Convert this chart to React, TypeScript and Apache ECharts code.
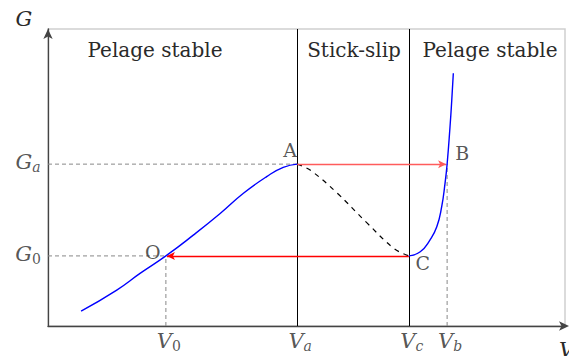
import React, { useEffect, useRef } from "react";
import * as echarts from "echarts";

// Key abscissae / ordinates (abstract units, axis 0..10)
const V0 = 2.28;
const Va = 4.82;
const Vc = 6.98;
const Vb = 7.72;
const G0 = 2.36;
const Ga = 5.45;

// Stable branch (low velocity)
const stableLow: number[][] = [
  [0.64, 0.5], [1.33, 1.21], [1.78, 1.77], [V0, G0], [2.81, 3.06], [3.33, 3.79],
  [3.78, 4.47], [4.23, 5.03], [4.55, 5.34], [Va, Ga],
];
// Unstable branch (dashed)
const unstable: number[][] = [
  [Va, Ga], [5.07, 5.25], [5.59, 4.48], [6.17, 3.47], [6.7, 2.6], [Vc, G0],
];
// Stable branch (high velocity)
const stableHigh: number[][] = [
  [Vc, G0], [7.2, 2.5], [7.39, 2.9], [7.52, 3.34], [7.615, 4.02], [7.68, 4.81],
  [Vb, Ga], [7.776, 6.71], [7.81, 7.61], [7.84, 8.51],
];

// Guide segments (gray dashed)
const guides: number[][][] = [
  [[0, Ga], [Va, Ga]],
  [[0, G0], [V0, G0]],
  [[V0, 0], [V0, G0]],
  [[Vb, 0], [Vb, Ga]],
];

// Regime boundaries
const boundaries = [Va, Vc];

// Jumps (red arrows)
const jumps = [
  { from: [Va, Ga], to: [Vb - 0.02, Ga], color: "#ff5c5c" },
  { from: [Vc, G0], to: [V0 + 0.02, G0], color: "#ff0000" },
];

// Point labels
const points = [
  { name: "A", value: [Va, Ga], offset: [-7, -14] },
  { name: "B", value: [Vb, Ga], offset: [15, -11] },
  { name: "O", value: [V0, G0], offset: [-13, -4] },
  { name: "C", value: [Vc, G0], offset: [14, 7] },
];

// Tick labels
const vTicks = [
  { main: "V", sub: "0", subItalic: false, x: V0 },
  { main: "V", sub: "a", subItalic: true, x: Va },
  { main: "V", sub: "c", subItalic: true, x: Vc },
  { main: "V", sub: "b", subItalic: true, x: Vb },
];
const gTicks = [
  { main: "G", sub: "a", subItalic: true, y: Ga },
  { main: "G", sub: "0", subItalic: false, y: G0 },
];

// Region titles
const regions = [
  { text: "Pelage stable", cx: 155 },
  { text: "Stick-slip", cx: 354 },
  { text: "Pelage stable", cx: 490 },
];

const FONT = "DejaVu Serif";
const TXT = "#2a2a2a";

const rich = {
  m: { fontFamily: FONT, fontStyle: "italic", fontSize: 21, color: TXT, lineHeight: 24, verticalAlign: "middle" },
  s: { fontFamily: FONT, fontSize: 14, color: TXT, lineHeight: 14, verticalAlign: "bottom" },
  si: { fontFamily: FONT, fontStyle: "italic", fontSize: 14, color: TXT, lineHeight: 14, verticalAlign: "bottom" },
};

function tickLabel(t: { main: string; sub: string; subItalic: boolean }) {
  return `{m|${t.main}}{${t.subItalic ? "si" : "s"}|${t.sub}}`;
}

export default function App() {
  const ref = useRef<HTMLDivElement>(null);
  useEffect(() => {
    if (!ref.current) return;
    const chart = echarts.init(ref.current, undefined, { renderer: "svg" });
    const series: any[] = [];
    series.push({
      type: "line", data: stableLow, smooth: 0.5, symbol: "none",
      lineStyle: { color: "#0000ff", width: 1.4 }, z: 5,
    });
    series.push({
      type: "line", data: unstable, smooth: 0.4, symbol: "none",
      lineStyle: { color: "#000", width: 1.2, type: [5, 5] }, z: 4,
    });
    series.push({
      type: "line", data: stableHigh, smooth: 0.5, symbol: "none",
      lineStyle: { color: "#0000ff", width: 1.4 }, z: 5,
    });
    guides.forEach((g) => {
      series.push({
        type: "line", data: g, symbol: "none", lineStyle: { color: "#888", width: 1, type: [4, 3] }, z: 2,
      });
    });
    series.push({
      type: "line", data: [], symbol: "none",
      markLine: {
        silent: true, symbol: "none", animation: false,
        label: { show: false },
        lineStyle: { color: "#000", width: 1, type: "solid" },
        data: boundaries.map((b) => ({ xAxis: b })),
      },
    });
    series.push({
      type: "line", data: [], symbol: "none", z: 6,
      markLine: {
        silent: true, symbol: ["none", "arrow"], symbolSize: [6, 8], animation: false,
        label: { show: false },
        data: jumps.map((j) => [
          { coord: j.from, lineStyle: { color: j.color, width: 1.3, type: "solid" }, itemStyle: { color: j.color } },
          { coord: j.to },
        ]),
      },
    });
    series.push({
      type: "scatter", clip: false, symbolSize: 1, itemStyle: { color: "transparent" }, z: 10,
      data: points.map((p) => ({
        value: p.value,
        label: {
          show: true, position: "inside", offset: p.offset, formatter: p.name,
          fontFamily: FONT, fontSize: 19, color: TXT,
        },
      })),
    });
    series.push({
      type: "scatter", clip: false, symbolSize: 1, itemStyle: { color: "transparent" }, z: 10,
      data: vTicks.map((t) => ({
        value: [t.x, 0],
        label: { show: true, position: "inside", offset: [3, 15], formatter: tickLabel(t), rich },
      })),
    });
    series.push({
      type: "scatter", clip: false, symbolSize: 1, itemStyle: { color: "transparent" }, z: 10,
      data: gTicks.map((t) => ({
        value: [0, t.y],
        label: { show: true, position: "inside", offset: [-20, -2], formatter: tickLabel(t), rich },
      })),
    });

    chart.setOption({
      animation: false,
      grid: { left: 48, right: 4, top: 29, bottom: 30, show: true, borderColor: "#cfcfcf", borderWidth: 1.5, backgroundColor: "transparent" },
      xAxis: {
        type: "value", min: 0, max: 10,
        axisLine: { show: true, symbol: ["none", "arrow"], symbolSize: [7, 10], symbolOffset: [0, 4], lineStyle: { color: "#444", width: 1.3 } },
        axisTick: { show: false }, axisLabel: { show: false }, splitLine: { show: false },
      },
      yAxis: {
        type: "value", min: 0, max: 10,
        axisLine: { show: true, symbol: ["none", "arrow"], symbolSize: [7, 10], lineStyle: { color: "#444", width: 1.3 } },
        axisTick: { show: false }, axisLabel: { show: false }, splitLine: { show: false },
      },
      graphic: [
        ...regions.map((r) => ({
          type: "text", x: r.cx, y: 50,
          style: { text: r.text, fontFamily: FONT, fontSize: 20, fill: TXT, align: "center", verticalAlign: "middle" },
        })),
        { type: "text", x: 24, y: 19, style: { text: "G", fontFamily: FONT, fontStyle: "italic", fontSize: 21, fill: TXT, align: "center", verticalAlign: "middle" } },
        { type: "text", x: 559, y: 339, style: { text: "V", fontFamily: FONT, fontStyle: "italic", fontSize: 21, fill: TXT, align: "left", verticalAlign: "top" } },
      ],
      series,
    });
    return () => chart.dispose();
  }, []);
  return <div ref={ref} style={{ position: "absolute", left: 0, top: 0, width: 569, height: 356 }} />;
}
